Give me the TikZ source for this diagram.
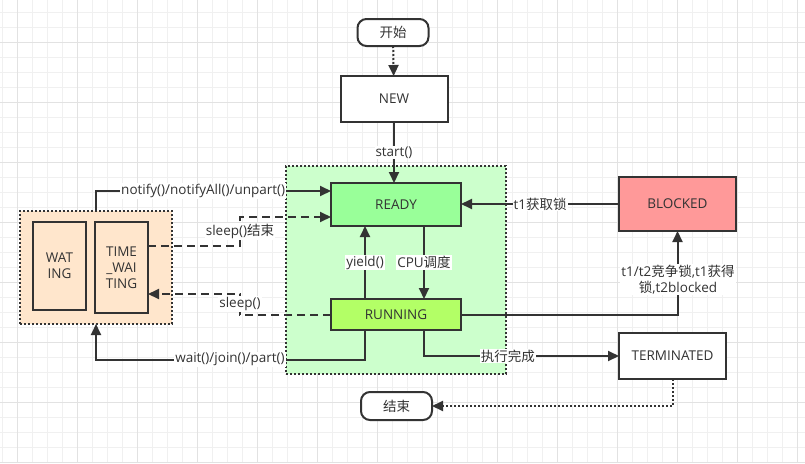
\documentclass[tikz,border=0pt]{standalone}
\usepackage{fontspec}
\setmainfont{Open Sans}
\newfontfamily\cjk{Noto Sans CJK SC}
\usetikzlibrary{arrows.meta,calc}
\definecolor{ink}{HTML}{333333}
\definecolor{gridminor}{HTML}{F0F0F0}
\definecolor{gridmajor}{HTML}{E2E2E2}
\definecolor{zonegreen}{HTML}{CCFFCC}
\definecolor{zoneorange}{HTML}{FFE6CC}
\definecolor{readyfill}{HTML}{99FF99}
\definecolor{runfill}{HTML}{B3FF66}
\definecolor{blockfill}{HTML}{FF9999}
\tikzset{
  state/.style={draw=ink, line width=2pt, rectangle, inner sep=0pt, outer sep=0pt,
    text=ink, font=\fontsize{13.5}{16}\selectfont, align=center},
  term/.style={state, rounded corners=9pt},
  zone/.style={draw=ink, line width=2pt, dash pattern=on 2pt off 2pt, inner sep=0pt, outer sep=0pt},
  conn/.style={draw=ink, line width=2pt, -{Triangle[length=11pt,width=10pt]}},
  plain/.style={draw=ink, line width=2pt},
  dashedconn/.style={conn, dash pattern=on 8pt off 5pt},
  dottedconn/.style={conn, dash pattern=on 2pt off 2pt},
  elabel/.style={fill=white, inner sep=1pt, text=ink, font=\fontsize{13.5}{15.5}\selectfont, align=center}
}
\begin{document}
\begin{tikzpicture}[x=1pt,y=-1pt]
\useasboundingbox (0,0) rectangle (805,463);
\fill[white] (0,0) rectangle (805,463);
% background grid
\foreach \x in {2,17,...,797} \draw[gridminor, line width=1pt] (\x,0) -- (\x,463);
\foreach \y in {12,27,...,462} \draw[gridminor, line width=1pt] (0,\y) -- (805,\y);
\foreach \x in {17,77,...,797} \draw[gridmajor, line width=1pt] (\x,0) -- (\x,463);
\foreach \y in {42,102,...,462} \draw[gridmajor, line width=1pt] (0,\y) -- (805,\y);

% group areas
\node[zone, fill=zonegreen, minimum width=220pt, minimum height=208pt] (runnable) at (396,270) {};
\node[zone, fill=zoneorange, minimum width=152pt, minimum height=113pt] (waitzone) at (96,267.5) {};

% states
\node[term, fill=white, minimum width=71pt, minimum height=27pt] (start) at (393,32.5) {\cjk 开始};
\node[state, fill=white, minimum width=107pt, minimum height=46pt] (new) at (394,99) {NEW};
\node[state, fill=readyfill, minimum width=130pt, minimum height=43pt] (ready) at (396,204.5) {READY};
\node[state, fill=runfill, minimum width=130pt, minimum height=31pt] (running) at (396,314.5) {RUNNING};
\node[state, fill=blockfill, minimum width=117pt, minimum height=54pt] (blocked) at (677.5,204) {BLOCKED};
\node[state, fill=white, minimum width=107pt, minimum height=46pt] (terminated) at (672.5,356) {TERMINATED};
\node[term, fill=white, minimum width=71pt, minimum height=28pt] (finish) at (396.5,406) {\cjk 结束};
\node[state, fill=zoneorange, minimum width=53pt, minimum height=88pt] (waiting) at (59.5,266) {WAT\\ING};
\node[state, fill=zoneorange, minimum width=53pt, minimum height=91pt] (timed) at (121.5,267.5) {TIME\\\_WAI\\TING};

% bend points
\coordinate (sleepend) at (240,231.5);
\coordinate (sleepgo) at (240,304);
\coordinate (waitbend) at (230,359.5);

% transitions
\draw[dottedconn] (start) -- (new);
\draw[conn] (new.south) -- (new.south |- ready.north) node[elabel, pos=0.5] {start()};
\draw[conn] ([xshift=-31pt]running.north) -- ([xshift=-31pt]ready.south) node[elabel, pos=0.5] {yield()};
\draw[conn] ([xshift=28pt]ready.south) -- ([xshift=28pt]running.north) node[elabel, pos=0.5] {CPU{\cjk 调度}};
\draw[conn] (blocked.west) -- (ready.east |- blocked.west) node[elabel, pos=0.5] {t1{\cjk 获取锁}};
\draw[conn] (running.east) -| (blocked.south);
\node[elabel] (blocklabel) at (678,279.5) {t1/t2{\cjk 竞争锁},t1{\cjk 获得}\\{\cjk 锁},t2blocked};
\draw[conn] ([xshift=28pt]running.south) |- (terminated.west) node[elabel, pos=0.715] {\cjk 执行完成};
\draw[dottedconn] (terminated.south) |- (finish.east);
\draw[conn] (waitzone.north) |- ([yshift=13.5pt]ready.west) node[elabel, pos=0.728] {notify()/notifyAll()/unpart()};
\draw[dashedconn] ([yshift=21.5pt]timed.east) -| (sleepend) |- ([yshift=-12.5pt]ready.west);
\node[elabel] (sleependlabel) at (sleepend) {sleep(){\cjk 结束}};
\draw[dashedconn] (running.west) -| (sleepgo) |- ([yshift=-26.5pt]timed.east);
\node[elabel] (sleepgolabel) at (sleepgo) {sleep()};
\draw[conn] ([xshift=-31pt]running.south) |- (waitbend) -| (waitzone.south);
\node[elabel] (waitlabel) at (waitbend) {wait()/join()/part()};
\end{tikzpicture}
\end{document}
